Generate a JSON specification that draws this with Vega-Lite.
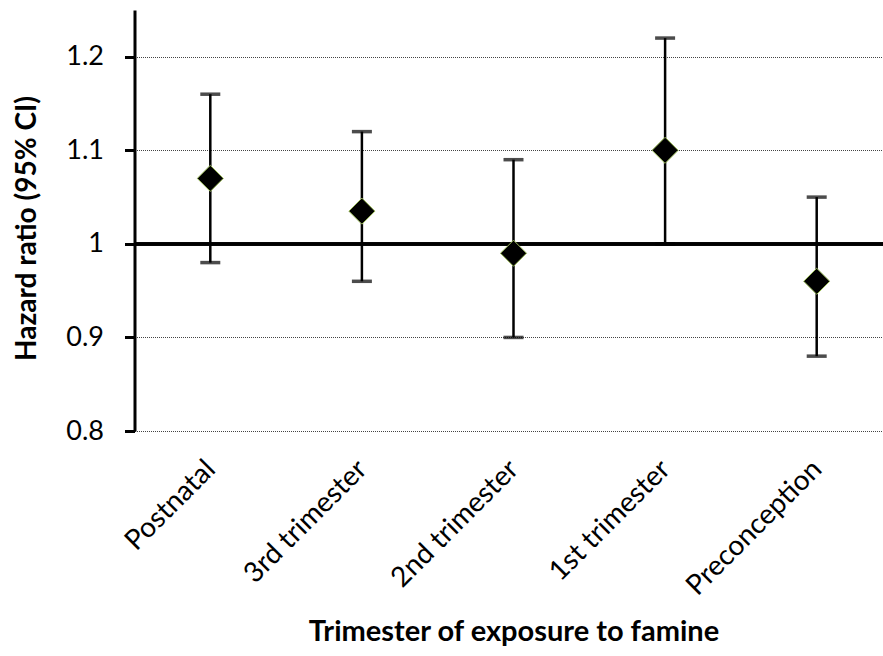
{
  "$schema": "https://vega.github.io/schema/vega-lite/v6.json",
  "autosize": "none",
  "width": 748.5,
  "height": 421,
  "padding": {"left": 134.5, "top": 10, "right": 0, "bottom": 225},
  "background": "white",
  "config": {
    "view": {"stroke": null},
    "font": "Lato"
  },
  "data": {
    "values": [
      {"period": "Postnatal", "hr": 1.07, "lo": 0.98, "hi": 1.16},
      {"period": "3rd trimester", "hr": 1.035, "lo": 0.96, "hi": 1.12},
      {"period": "2nd trimester", "hr": 0.99, "lo": 0.90, "hi": 1.09},
      {"period": "1st trimester", "hr": 1.10, "lo": 1.00, "hi": 1.22},
      {"period": "Preconception", "hr": 0.96, "lo": 0.88, "hi": 1.05}
    ]
  },
  "encoding": {
    "x": {
      "field": "period",
      "type": "nominal",
      "sort": null,
      "scale": {"range": [0, 758], "paddingInner": 0, "paddingOuter": 0},
      "axis": {
        "title": "Trimester of exposure to famine",
        "titleFont": "Lato",
        "titleFontSize": 29,
        "titleFontWeight": "bold",
        "titleColor": "black",
        "titleBaseline": "top",
        "titleY": 186,
        "labelAngle": -45,
        "labelAlign": "right",
        "labelBaseline": "top",
        "labelFont": "Lato",
        "labelFontSize": 28,
        "labelColor": "black",
        "labelPadding": 24,
        "labelOffset": -9,
        "ticks": false,
        "domain": false,
        "grid": false
      }
    }
  },
  "layer": [
    {
      "mark": {"type": "rule", "color": "black", "strokeWidth": 3},
      "encoding": {
        "y": {
          "datum": 1,
          "type": "quantitative",
          "scale": {"domain": [0.8, 1.25], "nice": false, "zero": false},
          "axis": {
            "title": "Hazard ratio (95% CI)",
            "titleFont": "Lato",
            "titleFontSize": 28,
            "titleFontWeight": "bold",
            "titleColor": "black",
            "titleX": -107,
            "titleY": 218,
            "titleBaseline": "middle",
            "values": [0.8, 0.9, 1, 1.1, 1.2],
            "labelExpr": "format(datum.value, '~g')",
            "labelFont": "Lato",
            "labelFontSize": 27,
            "labelColor": "black",
            "labelPadding": 21,
            "tickSize": 10,
            "tickWidth": 3,
            "tickColor": "black",
            "domainWidth": 3,
            "domainColor": "black",
            "grid": true,
            "gridColor": "#444",
            "gridWidth": 1,
            "gridDash": [1, 1]
          }
        },
        "x": null
      }
    },
    {
      "mark": {"type": "rule", "color": "black", "strokeWidth": 2.5},
      "encoding": {
        "y": {"field": "lo", "type": "quantitative"},
        "y2": {"field": "hi"}
      }
    },
    {
      "mark": {"type": "tick", "color": "black", "size": 20, "thickness": 3.5},
      "encoding": {"y": {"field": "lo", "type": "quantitative"}}
    },
    {
      "mark": {"type": "tick", "color": "black", "size": 20, "thickness": 3.5},
      "encoding": {"y": {"field": "hi", "type": "quantitative"}}
    },
    {
      "mark": {"type": "point", "shape": "diamond", "filled": true, "size": 680, "fill": "black", "stroke": "#9BBB59", "strokeWidth": 1, "opacity": 1},
      "encoding": {"y": {"field": "hr", "type": "quantitative"}}
    }
  ]
}
